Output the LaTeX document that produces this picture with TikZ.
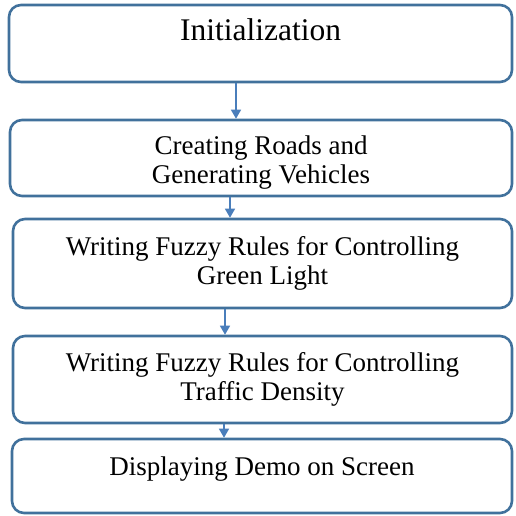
\documentclass[tikz,border=0pt]{standalone}
\usepackage{fontspec}
\setmainfont{Liberation Serif}
\usetikzlibrary{arrows.meta,positioning}
\definecolor{boxline}{HTML}{41719C}
\definecolor{flowcol}{HTML}{4A7EBB}

\begin{document}
\begin{tikzpicture}[
  x=1pt, y=-1pt,
  stage/.style={draw=boxline, line width=2.6pt, rounded corners=12pt,
    align=center, inner sep=0pt, font=\fontsize{27}{29}\selectfont},
  flow/.style={-{Triangle[width=10pt,length=9pt]}, flowcol, line width=1.5pt}
]
\useasboundingbox (0,0) rectangle (515,516);

\node[stage, minimum width=503pt, minimum height=77pt,
  font=\fontsize{31.5}{34}\selectfont, text height=20pt, text depth=25pt]
  (init) at (260.5,43.5) {Initialization};
\node[stage, minimum width=502pt, minimum height=76pt,
  text height=50pt, text depth=0pt]
  (roads) at (261,158) {Creating Roads and\\Generating Vehicles};
\node[stage, minimum width=499pt, minimum height=89pt]
  (green) at (262.5,263.5) {Writing Fuzzy Rules for Controlling\\Green Light};
\node[stage, minimum width=499pt, minimum height=87pt]
  (density) at (262.5,379.5) {Writing Fuzzy Rules for Controlling\\Traffic Density};
\node[stage, minimum width=500pt, minimum height=74pt,
  text height=18pt, text depth=20pt]
  (demo) at (262,476) {Displaying Demo on Screen};

% arrows sit a little left of the box centres
\coordinate (f1) at (236,0);
\coordinate (f2) at (230,0);
\coordinate (f3) at (225,0);
\coordinate (f4) at (224,0);
\draw[flow] (init.south -| f1) -- (roads.north -| f1);
\draw[flow] (roads.south -| f2) -- (green.north -| f2);
\draw[flow] (green.south -| f3) -- (density.north -| f3);
\draw[flow] (density.south -| f4) -- (demo.north -| f4);
\end{tikzpicture}
\end{document}
